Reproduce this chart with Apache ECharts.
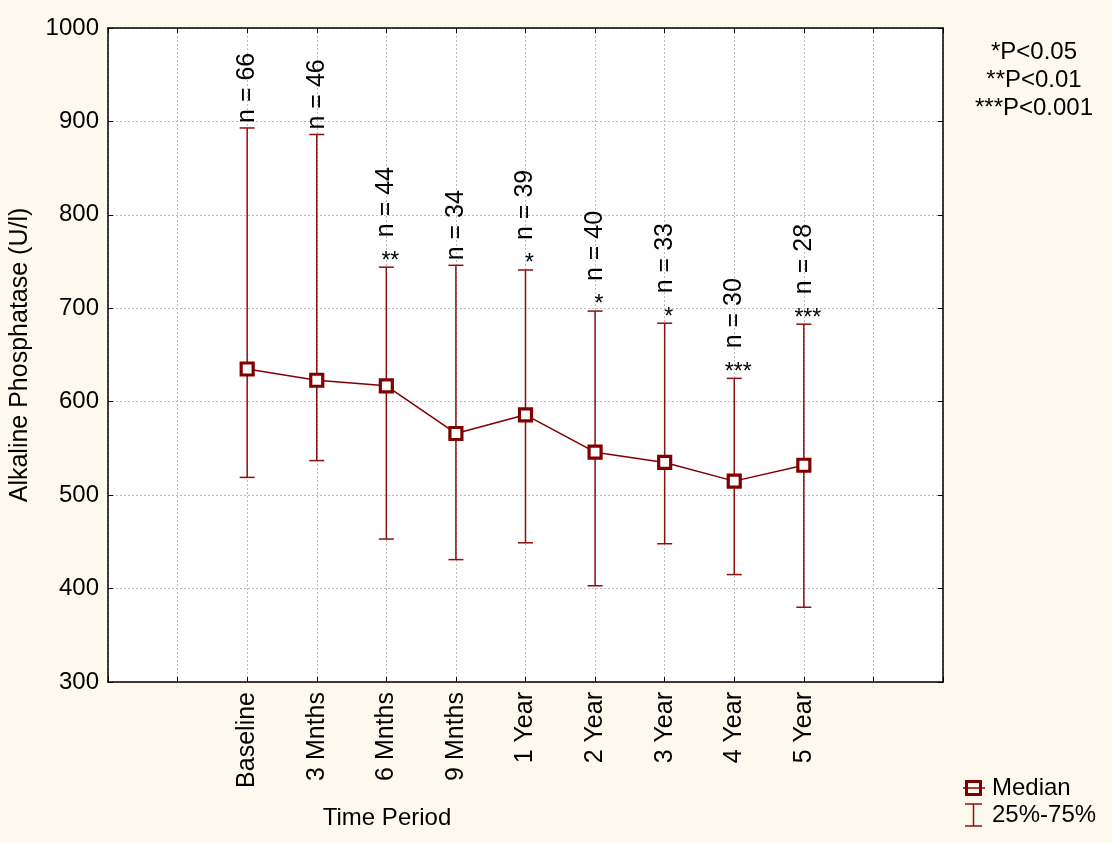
<!DOCTYPE html>
<html>
<head>
<meta charset="utf-8">
<script src="https://cdn.jsdelivr.net/npm/echarts@6/dist/echarts.min.js"></script>
<style>
  html, body { margin: 0; padding: 0; background: #fdf9ee; }
  #chart { width: 1112px; height: 843px; }
</style>
</head>
<body>
<div id="chart"></div>
<script>
// Alkaline phosphatase over follow-up: median with interquartile range
const categories = ['Baseline', '3 Mnths', '6 Mnths', '9 Mnths', '1 Year', '2 Year', '3 Year', '4 Year', '5 Year'];
const medians = [635, 623, 617, 566, 586, 546, 535, 515, 532];
const q1 = [519, 537, 453, 431, 449, 403, 448, 415, 380];
const q3 = [893, 886, 744, 746, 741, 697, 684, 625, 683];
const sampleSizes = [66, 46, 44, 34, 39, 40, 33, 30, 28];
const significance = ['', '', '**', '', '*', '*', '*', '***', '***'];
const yTicks = [300, 400, 500, 600, 700, 800, 900, 1000];
const pValueNotes = ['*P<0.05', '**P<0.01', '***P<0.001'];
const legendNames = ['Median', '25%-75%'];

// categories sit on slots 2..10 of a 0..12 slot axis (empty slots either side)
const firstSlot = 2;
const slotMax = 12;

const FONT = "'Liberation Sans', Arial, sans-serif";
const DARK_RED = '#800000';
const BAR_RED = '#8b1010';

const slotLabel = v => {
  const i = Math.round(v) - firstSlot;
  return categories[i] !== undefined ? categories[i] : '';
};

const medianData = categories.map((c, i) => [i + firstSlot, medians[i]]);
const rangeData = categories.map((c, i) => [i + firstSlot, q1[i], q3[i]]);
const noteData = categories.map((c, i) => [i + firstSlot, q3[i]]);

const chart = echarts.init(document.getElementById('chart'), null, { renderer: 'canvas' });

const baseX = {
  type: 'value', min: 0, max: slotMax, interval: 1,
  axisLine: { show: true, onZero: false, lineStyle: { color: '#000', width: 1.5 } },
  axisTick: { show: true, inside: true, length: 5, lineStyle: { color: '#000', width: 1 } }
};
const baseY = {
  type: 'value', min: yTicks[0], max: yTicks[yTicks.length - 1], interval: yTicks[1] - yTicks[0],
  axisLine: { show: true, onZero: false, lineStyle: { color: '#000', width: 1.5 } },
  axisTick: { show: true, inside: true, length: 5, lineStyle: { color: '#000', width: 1 } }
};

// legend swatches and text, bottom right
const legendX = 963, legendY = 788, legendStep = 27;
const legendGraphics = [
  { type: 'line', shape: { x1: legendX, y1: legendY, x2: legendX + 22, y2: legendY },
    style: { stroke: DARK_RED, lineWidth: 1.5 } },
  { type: 'rect', shape: { x: legendX + 3.5, y: legendY - 6.5, width: 14, height: 13 },
    style: { fill: 'none', stroke: DARK_RED, lineWidth: 3 } },
  { type: 'line', shape: { x1: legendX + 10.5, y1: legendY + legendStep - 11, x2: legendX + 10.5, y2: legendY + legendStep + 11 },
    style: { stroke: BAR_RED, lineWidth: 1.5 } },
  { type: 'line', shape: { x1: legendX + 2, y1: legendY + legendStep - 11, x2: legendX + 19, y2: legendY + legendStep - 11 },
    style: { stroke: BAR_RED, lineWidth: 1.5 } },
  { type: 'line', shape: { x1: legendX + 2, y1: legendY + legendStep + 11, x2: legendX + 19, y2: legendY + legendStep + 11 },
    style: { stroke: BAR_RED, lineWidth: 1.5 } },
  ...legendNames.map((t, i) => ({
    type: 'text',
    style: { text: t, x: legendX + 29, y: legendY + i * legendStep, align: 'left', verticalAlign: 'middle',
             fontSize: 24, fill: '#000', fontFamily: FONT }
  }))
];

chart.setOption({
  backgroundColor: '#fdf9ee',
  animation: false,
  textStyle: { fontFamily: FONT },
  grid: {
    left: 108, right: 169, top: 28, bottom: 161,
    show: true, backgroundColor: '#ffffff', borderWidth: 0
  },
  xAxis: [
    Object.assign({}, baseX, {
      position: 'bottom',
      splitLine: { show: true, lineStyle: { color: '#bdbdbd', width: 1, type: [2, 2] } },
      axisLabel: {
        show: true, rotate: 90, margin: 10, fontSize: 25, color: '#000', fontFamily: FONT,
        formatter: slotLabel
      }
    }),
    Object.assign({}, baseX, {
      position: 'top',
      splitLine: { show: false },
      axisLabel: { show: false }
    })
  ],
  yAxis: [
    Object.assign({}, baseY, {
      position: 'left',
      splitLine: { show: true, lineStyle: { color: '#bdbdbd', width: 1, type: [2, 2] } },
      axisLabel: { show: true, margin: 9, fontSize: 24, color: '#000', fontFamily: FONT, formatter: v => String(v) },
      name: 'Alkaline Phosphatase (U/l)',
      nameLocation: 'middle',
      nameGap: 75,
      nameTextStyle: { fontSize: 25, color: '#000', fontFamily: FONT }
    }),
    Object.assign({}, baseY, {
      position: 'right',
      splitLine: { show: false },
      axisLabel: { show: false }
    })
  ],
  graphic: [
    {
      type: 'text',
      style: {
        text: 'Time Period', x: 387, y: 818, align: 'center', verticalAlign: 'middle',
        fontSize: 24, fill: '#000', fontFamily: FONT
      }
    },
    ...pValueNotes.map((t, i) => ({
      type: 'text',
      style: {
        text: t, x: 1034, y: 52 + i * 28, align: 'center', verticalAlign: 'middle',
        fontSize: 24, fill: '#000', fontFamily: FONT
      }
    })),
    ...legendGraphics
  ],
  series: [
    {
      name: '25%-75%',
      type: 'custom',
      xAxisIndex: 0, yAxisIndex: 0,
      itemStyle: { color: BAR_RED },
      encode: { x: 0, y: [1, 2] },
      data: rangeData,
      z: 2,
      renderItem: (params, api) => {
        const x = api.value(0);
        const lo = api.coord([x, api.value(1)]);
        const hi = api.coord([x, api.value(2)]);
        const half = 7.5;
        const st = { stroke: BAR_RED, lineWidth: 1.5 };
        return {
          type: 'group',
          children: [
            { type: 'line', shape: { x1: lo[0], y1: lo[1], x2: hi[0], y2: hi[1] }, style: st },
            { type: 'line', shape: { x1: lo[0] - half, y1: lo[1], x2: lo[0] + half, y2: lo[1] }, style: st },
            { type: 'line', shape: { x1: hi[0] - half, y1: hi[1], x2: hi[0] + half, y2: hi[1] }, style: st }
          ]
        };
      }
    },
    {
      name: 'Median',
      type: 'line',
      xAxisIndex: 0, yAxisIndex: 0,
      data: medianData,
      z: 4,
      symbol: 'rect',
      symbolSize: 12,
      lineStyle: { color: DARK_RED, width: 1.5 },
      itemStyle: { color: '#ffffff', borderColor: DARK_RED, borderWidth: 3.2 }
    },
    {
      name: 'notes',
      type: 'custom',
      xAxisIndex: 0, yAxisIndex: 0,
      data: noteData,
      z: 5,
      silent: true,
      renderItem: (params, api) => {
        const i = params.dataIndex;
        const top = api.coord([api.value(0), api.value(1)]);
        const stars = significance[i];
        const children = [];
        let nBottom = top[1] - 5;
        if (stars) {
          children.push({
            type: 'text',
            x: top[0] + 4, y: top[1] - 6,
            style: {
              text: stars, align: 'center', verticalAlign: 'middle',
              fontSize: 23, fill: '#000', fontFamily: FONT
            }
          });
          nBottom = top[1] - 30;
        }
        children.push({
          type: 'text',
          x: top[0], y: nBottom,
          rotation: Math.PI / 2,
          style: {
            text: 'n = ' + sampleSizes[i], align: 'left', verticalAlign: 'middle',
            fontSize: 25, fill: '#000', fontFamily: FONT
          }
        });
        return { type: 'group', children };
      }
    }
  ]
});
</script>
</body>
</html>
